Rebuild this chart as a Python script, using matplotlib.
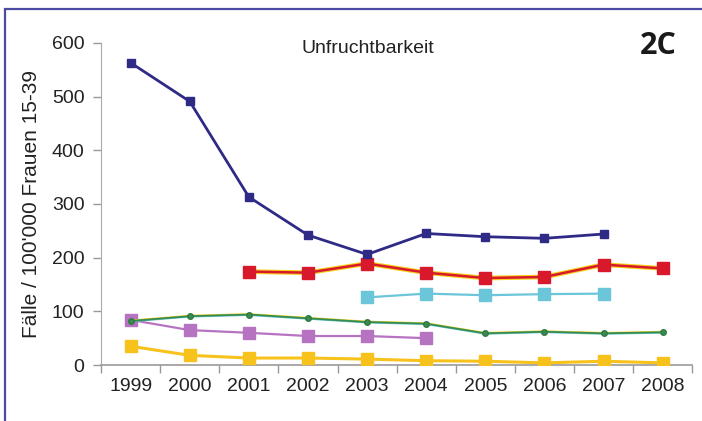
import matplotlib.pyplot as plt
from matplotlib.patches import Rectangle

plt.rcParams['font.family'] = ['Liberation Sans', 'DejaVu Sans']

years = ['1999', '2000', '2001', '2002', '2003', '2004', '2005', '2006', '2007', '2008']

# Werte pro Serie (None = kein Wert)
navy = [563, 491, 313, 242, 206, 245, 239, 236, 244, None]
red = [None, None, 174, 172, 189, 172, 162, 164, 187, 180]
cyan = [None, None, None, None, 126, 133, 130, 132, 133, None]
green = [82, 91, 94, 87, 80, 77, 59, 62, 59, 61]
violet = [84, 65, 60, 54, 54, 50, None, None, None, None]
yellow = [35, 18, 13, 13, 11, 8, 7, 4, 7, 4]

def pts(vals):
    xs = [i for i, v in enumerate(vals) if v is not None]
    ys = [v for v in vals if v is not None]
    return xs, ys

fig = plt.figure(figsize=(7.02, 4.21), dpi=100)
ax = fig.add_axes([0.144, 0.133, 0.842, 0.765])

# Rahmen um die Grafik
fig.patches.append(Rectangle((0.007, -0.05), 1.1, 1.028, transform=fig.transFigure,
                             fill=False, edgecolor='#4B4BA3', linewidth=1.6))

x, y = pts(yellow)
ax.plot(x, y, color='#F8C21C', lw=2.2, marker='s', ms=8, mec='#F8C21C', zorder=3)

x, y = pts(violet)
ax.plot(x, y, color='#B673C2', lw=1.6, marker='s', ms=8, mec='#B673C2', zorder=3)

x, y = pts(green)
ax.plot(x, [v + 0.8 for v in y], color='#F2D31E', lw=1.4, zorder=3)
ax.plot(x, [v - 0.8 for v in y], color='#5FC4D6', lw=1.4, zorder=3)
ax.plot(x, y, color='#3A8C4E', lw=1.3, marker='o', ms=4, mec='#2F7A42', zorder=4)

x, y = pts(cyan)
ax.plot(x, y, color='#6CC6DA', lw=1.6, marker='s', ms=8, mec='#6CC6DA', zorder=3)

x, y = pts(red)
ax.plot(x, y, color='#F6D21C', lw=3.4, zorder=3)
ax.plot(x, y, color='#D7192B', lw=1.8, marker='s', ms=9, mec='#D7192B', zorder=4)

x, y = pts(navy)
ax.plot(x, y, color='#2E2A86', lw=2.0, marker='s', ms=6, mec='#2E2A86', zorder=5)

ax.set_xlim(-0.5, 9.5)
ax.set_ylim(0, 600)
ax.set_yticks(range(0, 601, 100))
ax.set_xticks(range(len(years)))
ax.set_xticklabels(years)
ax.set_xticks([i + 0.5 for i in range(-1, 10)], minor=True)
ax.tick_params(axis='x', which='major', length=0, labelsize=14, pad=9, colors='#222222')
ax.tick_params(axis='x', which='minor', length=6, color='#999999', width=1)
ax.tick_params(axis='y', length=6, color='#999999', width=1, labelsize=14, colors='#222222', pad=6)
for s in ['top', 'right']:
    ax.spines[s].set_visible(False)
ax.spines['left'].set_color('#aaaaaa')
ax.spines['bottom'].set_color('#999999')
ax.spines['bottom'].set_linewidth(1.2)

ax.set_ylabel("Fälle / 100'000 Frauen 15-39", fontsize=15, color='#222222', labelpad=8)
fig.text(0.524, 0.885, 'Unfruchtbarkeit', fontsize=14, ha='center', va='center', color='#222222')
fig.text(0.937, 0.89, '2C', fontsize=22, fontweight='bold', family='Open Sans',
         ha='center', va='center', color='#1a1a1a')

fig.savefig('out.png', dpi=100)
